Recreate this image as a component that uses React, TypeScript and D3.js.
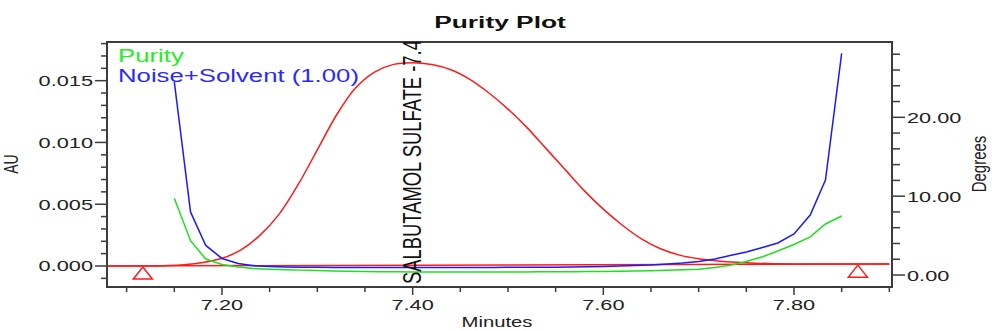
import React from 'react';
import * as d3 from 'd3';

// scan times (min) shared by the purity and noise traces
const scanTimes = [
  7.150, 7.167, 7.183, 7.200, 7.217, 7.233, 7.250, 7.267, 7.283, 7.300,
  7.317, 7.333, 7.350, 7.367, 7.383, 7.400, 7.417, 7.433, 7.450, 7.467,
  7.483, 7.500, 7.517, 7.533, 7.550, 7.567, 7.583, 7.600, 7.617, 7.633,
  7.650, 7.667, 7.683, 7.700, 7.717, 7.733, 7.750, 7.767, 7.783, 7.800,
  7.817, 7.833, 7.850,
];

// Noise+Solvent threshold (Degrees)
const noiseDeg = [
  24.5, 8.0, 3.75, 2.1, 1.45, 1.17, 1.08, 1.03, 1.0, 0.97,
  0.96, 0.95, 0.95, 0.95, 0.94, 0.94, 0.94, 0.94, 0.95, 0.95,
  0.96, 0.97, 0.98, 0.99, 1.0, 1.02, 1.04, 1.08, 1.14, 1.2,
  1.27, 1.4, 1.52, 1.71, 2.03, 2.47, 2.92, 3.49, 4.06, 5.2,
  7.6, 12.05, 28.1,
];

// Purity angle (Degrees)
const purityDeg = [
  9.73, 4.35, 2.03, 1.33, 1.01, 0.82, 0.74, 0.68, 0.62, 0.57,
  0.52, 0.48, 0.45, 0.42, 0.40, 0.38, 0.37, 0.37, 0.37, 0.37,
  0.38, 0.38, 0.39, 0.40, 0.41, 0.42, 0.43, 0.44, 0.47, 0.51,
  0.55, 0.60, 0.66, 0.72, 0.95, 1.24, 1.71, 2.31, 3.04, 3.87,
  4.84, 6.47, 7.48,
];

// chromatogram (AU)
const peakTimes = [
  7.08, 7.10, 7.12, 7.14, 7.16, 7.18, 7.20, 7.22, 7.24, 7.26,
  7.28, 7.30, 7.32, 7.34, 7.36, 7.38, 7.40, 7.42, 7.44, 7.46,
  7.48, 7.50, 7.52, 7.54, 7.56, 7.58, 7.60, 7.62, 7.64, 7.66,
  7.68, 7.70, 7.72, 7.74, 7.76, 7.78, 7.80, 7.82, 7.84, 7.86,
  7.88, 7.90,
];
const peakAU = [
  0.0, 0.0, 0.0, 0.00003, 0.0001, 0.00028, 0.00062, 0.0013, 0.0025, 0.0042,
  0.0066, 0.0094, 0.0122, 0.0144, 0.0157, 0.01632, 0.01645, 0.0163, 0.01588, 0.0151,
  0.014, 0.0127, 0.0112, 0.0095, 0.0078, 0.0061, 0.0046, 0.0033, 0.0022, 0.0014,
  0.00088, 0.00058, 0.00041, 0.0003, 0.00023, 0.00019, 0.00017, 0.00016, 0.00016, 0.00016,
  0.00016, 0.00016,
];

const baselineTimes = [7.08, 7.90];
const baselineAU = [0.0, 0.00016];

// integration start / end markers
const markerTimes = [7.117, 7.867];
const markerAU = [0.0, 0.00015];

const xTickLabels = ['7.20', '7.40', '7.60', '7.80'];
const auTickLabels = ['0.000', '0.005', '0.010', '0.015'];
const degTickLabels = ['0.00', '10.00', '20.00'];

const peakLabel = 'SALBUTAMOL SULFATE -7.401';

const W = 992;
const H = 331;
const box = { left: 107, right: 892, top: 42, bottom: 287 };
const FONT = '"Liberation Sans", Arial, sans-serif';
const SX = 1.45; // the source picture is stretched sideways
const AXIS = '#3c3c3c';

export default function App() {
  const x = d3.scaleLinear().domain([7.0794, 7.9028]).range([box.left, box.right]);
  const yAU = d3.scaleLinear().domain([-0.0017, 0.01813]).range([box.bottom, box.top]);
  const yDeg = d3.scaleLinear().domain([-1.52, 29.55]).range([box.bottom, box.top]);

  const degLine = d3.line<[number, number]>()
    .x(d => x(d[0]))
    .y(d => yDeg(d[1]));
  const auLine = d3.line<[number, number]>()
    .x(d => x(d[0]))
    .y(d => yAU(d[1]))
    .curve(d3.curveCatmullRom);

  const noisePath = degLine(scanTimes.map((t, i) => [t, noiseDeg[i]]))!;
  const purityPath = degLine(scanTimes.map((t, i) => [t, purityDeg[i]]))!;
  const peakPath = auLine(peakTimes.map((t, i) => [t, peakAU[i]]))!;
  const basePath = d3.line<[number, number]>()
    .x(d => x(d[0]))
    .y(d => yAU(d[1]))(baselineTimes.map((t, i) => [t, baselineAU[i]]))!;

  const xMinor = d3.range(7.10, 7.905, 0.05);
  const auMinor = d3.range(-0.001, 0.01805, 0.001);
  const degMinor = d3.range(0, 28.5, 2);

  const txt = (s: string, px: number, py: number, opts: any = {}) => (
    <text
      key={s + px + py}
      transform={`translate(${px},${py}) scale(${opts.sx ?? SX},1)${opts.rot ? ' rotate(-90)' : ''}`}
      textAnchor={opts.anchor ?? 'middle'}
      fontSize={opts.size ?? 15}
      fontWeight={opts.weight ?? 'normal'}
      fill={opts.fill ?? '#222'}
      fontFamily={FONT}
    >
      {s}
    </text>
  );

  return (
    <svg width={W} height={H} style={{ position: 'absolute', left: 0, top: 0, background: '#fff' }}>
      <defs>
        <clipPath id="plot">
          <rect x={box.left} y={box.top} width={box.right - box.left} height={box.bottom - box.top} />
        </clipPath>
      </defs>

      {txt('Purity Plot', 500, 28, { size: 17, weight: 'bold', sx: 1.55, fill: '#111' })}

      {/* x axis ticks */}
      {xMinor.map(t => {
        const major = xTickLabels.includes(t.toFixed(2));
        return (
          <line key={'xt' + t} x1={x(t)} x2={x(t)} y1={box.bottom} y2={box.bottom + (major ? 8 : 5)}
            stroke={AXIS} strokeWidth={1.5} />
        );
      })}
      {xTickLabels.map(l => txt(l, x(+l), 310))}
      {txt('Minutes', 497, 327, { size: 14 })}

      {/* left AU axis */}
      {auMinor.map(v => {
        const major = auTickLabels.includes(v.toFixed(3));
        return (
          <line key={'ya' + v} x1={box.left - (major ? 12 : 6)} x2={box.left} y1={yAU(v)} y2={yAU(v)}
            stroke={AXIS} strokeWidth={1.5} />
        );
      })}
      {auTickLabels.map(l => txt(l, 93, yAU(+l) + 5.5, { anchor: 'end' }))}
      {txt('AU', 18, 164, { size: 14, rot: true, sx: 1.45 })}

      {/* right Degrees axis */}
      {degMinor.map(v => {
        const major = degTickLabels.includes(v.toFixed(2));
        return (
          <line key={'yd' + v} x1={box.right} x2={box.right + (major ? 13 : 8)} y1={yDeg(v)} y2={yDeg(v)}
            stroke={AXIS} strokeWidth={1.5} />
        );
      })}
      {degTickLabels.map(l => txt(l, 907, yDeg(+l) + 5.5, { anchor: 'start' }))}
      {txt('Degrees', 986, 164, { size: 15, rot: true, sx: 1.4 })}

      {/* plot frame */}
      <rect x={box.left} y={box.top} width={box.right - box.left} height={box.bottom - box.top}
        fill="none" stroke={AXIS} strokeWidth={2} />

      <g clipPath="url(#plot)">
        <path d={basePath} fill="none" stroke="#ff1a1a" strokeWidth={1.5} />
        <path d={peakPath} fill="none" stroke="#ff1a1a" strokeWidth={1.5} />
        <path d={purityPath} fill="none" stroke="#1ee01e" strokeWidth={1.5} />
        <path d={noisePath} fill="none" stroke="#1a1aff" strokeWidth={1.5} />
        {markerTimes.map((t, i) => {
          const mx = x(t);
          const my = yAU(markerAU[i]) + 1;
          return (
            <path key={'m' + i} d={`M${mx},${my}L${mx + 9.5},${my + 12}L${mx - 9.5},${my + 12}Z`}
              fill="none" stroke="#ff1a1a" strokeWidth={1.5} />
          );
        })}
        {txt(peakLabel, x(7.40) + 8, 284, { size: 18.4, rot: true, anchor: 'start', fill: '#111', sx: 1.4 })}
      </g>

      {/* legend */}
      {txt('Purity', 118, 62, { size: 17.5, anchor: 'start', fill: '#22ee22', sx: 1.47 })}
      {txt('Noise+Solvent (1.00)', 118, 82, { size: 17.5, anchor: 'start', fill: '#2a2aff', sx: 1.47 })}
    </svg>
  );
}
